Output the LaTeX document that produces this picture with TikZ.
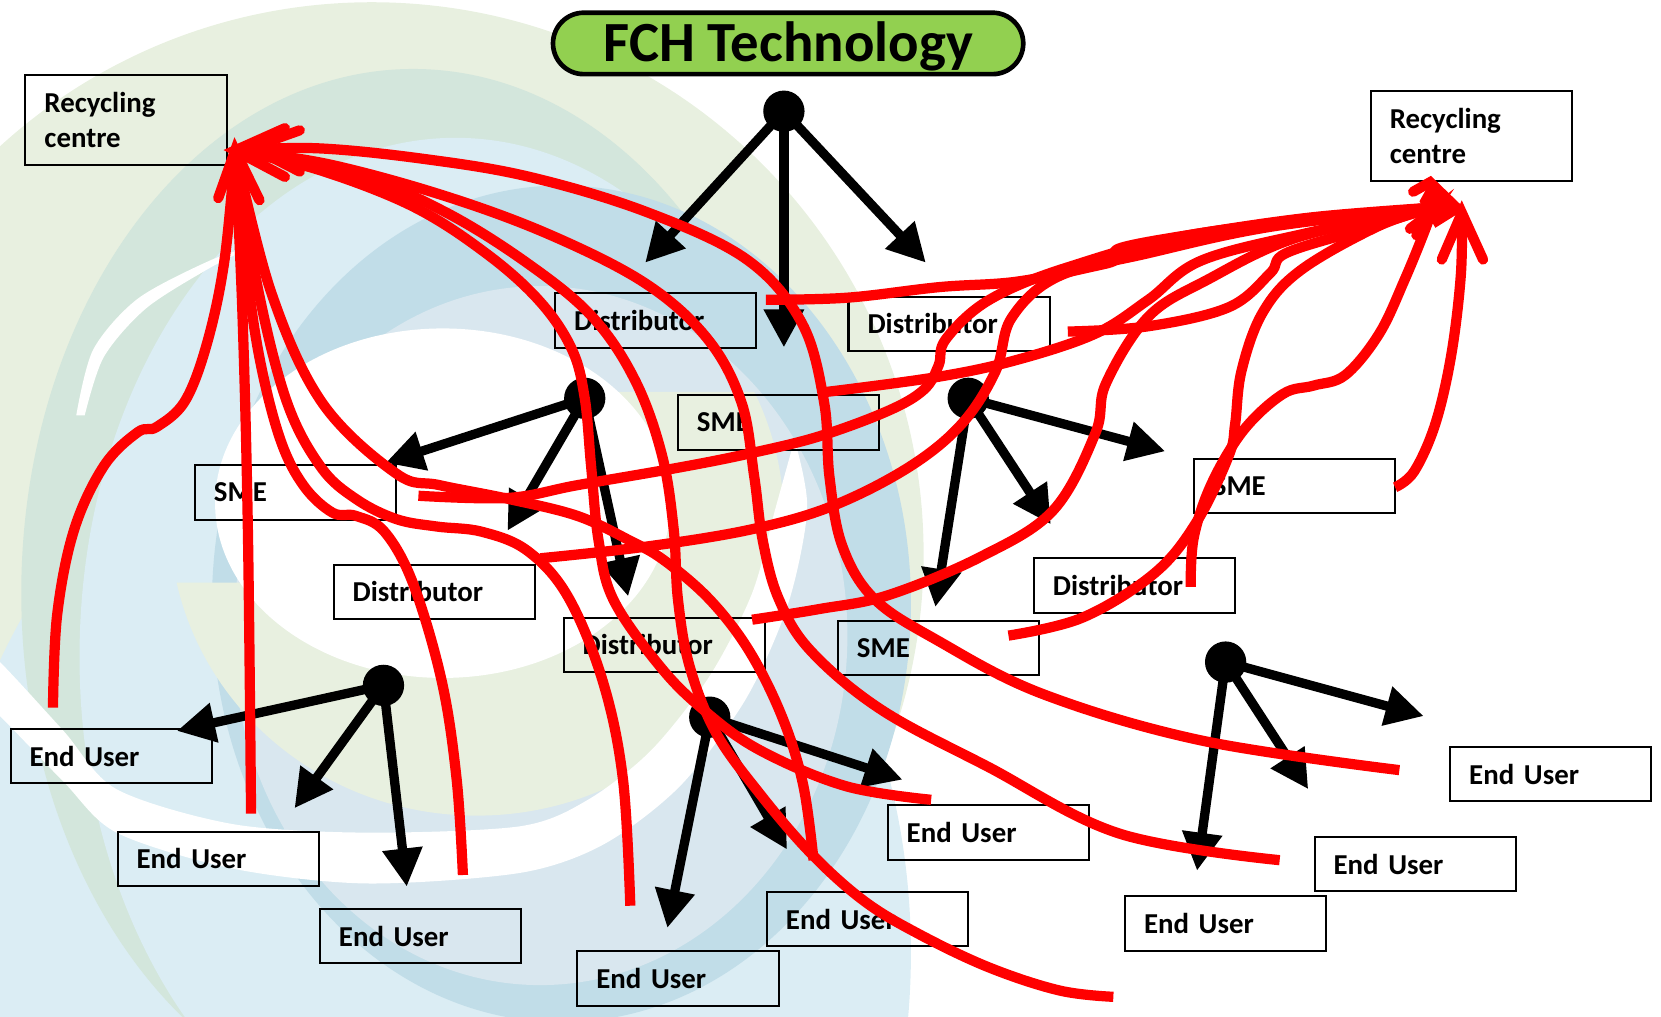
\documentclass[tikz,border=0pt]{standalone}
\usepackage{fontspec}
\setmainfont{Carlito}
\usetikzlibrary{arrows.meta}

\definecolor{bgPale}{RGB}{232,240,224}
\definecolor{bgSage}{RGB}{211,230,220}
\definecolor{bgSky}{RGB}{219,237,244}
\definecolor{bgBlue}{RGB}{193,221,232}
\definecolor{bgMist}{RGB}{217,231,239}
\definecolor{pill}{RGB}{146,208,80}
\definecolor{flow}{RGB}{255,0,0}

\begin{document}
\begin{tikzpicture}[x=0.02cm,y=-0.02cm,
  box/.style={draw=black, line width=1.1pt, anchor=north west,
    minimum width=3.8cm, minimum height=1.03cm, text width=3.08cm,
    inner xsep=0.36cm, inner ysep=0pt, align=left,
    font=\bfseries\fontsize{15.5pt}{18.7pt}\selectfont},
  tallbox/.style={box, minimum height=1.7cm},
  hub/.style={circle, fill=black, minimum size=0.78cm, inner sep=0pt},
  blk/.style={line width=5pt, -{Triangle[length=0.72cm,width=0.72cm]}},
  rd/.style={draw=flow, line width=5.5pt, line join=round},
  rhead/.style={draw=flow, line width=5.5pt, line cap=round, line join=miter},
  titlebox/.style={draw=black, line width=2.5pt, fill=pill, rounded corners=0.58cm,
    minimum width=8.88cm, minimum height=1.16cm, inner sep=0pt,
    text height=19.6pt, text depth=0pt,
    font=\bfseries\fontsize{30.5pt}{30.5pt}\selectfont}]

\useasboundingbox (0,0) rectangle (1568,960);

% ---- pastel swirl background ----
\begin{scope}
\clip (0,0) rectangle (1568,960);
\fill[bgPale] (351,523) ellipse [x radius=10.42cm, y radius=10.42cm];
\fill[bgSky] (400,900) ellipse [x radius=9.2cm, y radius=11.2cm];
\fill[bgSage] (390,560) ellipse [x radius=7.4cm, y radius=9.9cm];
\fill[bgSky] (430,620) ellipse [x radius=7.1cm, y radius=9.8cm];
\fill[bgBlue] (530,570) ellipse [x radius=6.6cm, y radius=7.9cm];
\fill[bgMist] (510,600) ellipse [x radius=5.8cm, y radius=6.6cm];
% thin white sliver, upper left
\fill[white] plot[smooth] coordinates {(72,392) (88,330) (130,282) (198,246) (240,232)}
  -- plot[smooth] coordinates {(240,232) (198,253) (138,291) (98,337) (80,392)} -- cycle;
% green band round the inner white
\begin{scope}
  \clip (0,550) rectangle (1568,960) (560,370) rectangle (1568,550);
  \fill[bgPale] (450,490) ellipse [x radius=5.8cm, y radius=5.6cm];
\end{scope}
\fill[white] (418,475) ellipse [x radius=4.3cm, y radius=3.3cm];
% white crescent, lower left
\fill[white] plot[smooth] coordinates {(-40,590) (0,625) (60,690) (110,745) (220,778) (346,786) (491,780) (555,755) (615,708) (670,638) (710,560) (732,480) (750,415)}
  -- plot[smooth] coordinates {(750,415) (762,480) (744,570) (704,660) (642,742) (570,797) (491,824) (346,834) (220,820) (110,786) (60,738) (0,676) (-40,640)} -- cycle;
\end{scope}

% ---- title ----
\node[titlebox] (title) at (744,41) {FCH Technology};

% ---- boxes ----
\node[tallbox] (rcl) at (23,70) {Recycling\\centre};
\node[tallbox] (rcr) at (1293,85) {Recycling\\centre};
\node[box] (dA) at (523,276) {Distributor};
\node[box] (dB) at (800,279) {Distributor};
\node[box] (s1) at (639,372) {SME};
\node[box] (s2) at (183,438) {SME};
\node[box] (s3) at (1126,432) {SME};
\node[box] (dC) at (314,532) {Distributor};
\node[box] (dD) at (975,526) {Distributor};
\node[box] (dE) at (531,582) {Distributor};
\node[box] (s4) at (790,585) {SME};
\node[box] (u1) at (9,687) {End User};
\node[box] (u2) at (1368,704) {End User};
\node[box] (u3) at (110,784) {End User};
\node[box] (u4) at (837,759) {End User};
\node[box] (u5) at (1240,789) {End User};
\node[box] (u6) at (301,857) {End User};
\node[box] (u7) at (723,841) {End User};
\node[box] (u8) at (1061,845) {End User};
\node[box] (u9) at (544,897) {End User};

% ---- supply hubs ----
\node[hub] (h1) at (740,105) {};
\node[hub] (h2) at (552,376) {};
\node[hub] (h3) at (914,376) {};
\node[hub] (h4) at (362,647) {};
\node[hub] (h5) at (670,677) {};
\node[hub] (h6) at (1157,625) {};

\coordinate (h1a) at (609,248); \coordinate (h1b) at (740,328); \coordinate (h1c) at (874,248);
\coordinate (h2a) at (364,437); \coordinate (h2b) at (479,501); \coordinate (h2c) at (593,563);
\coordinate (h3a) at (1100,426); \coordinate (h3b) at (992,495); \coordinate (h3c) at (883,573);
\coordinate (h4a) at (167,690); \coordinate (h4b) at (278,763); \coordinate (h4c) at (384,837);
\coordinate (h5a) at (852,736); \coordinate (h5b) at (743,802); \coordinate (h5c) at (630,876);
\coordinate (h6a) at (1344,676); \coordinate (h6b) at (1235,745); \coordinate (h6c) at (1130,822);

\foreach \h in {h1,h2,h3,h4,h5,h6}
  \foreach \t in {a,b,c}
    \draw[blk] (\h.center) -- (\h\t);

% ---- return flows to the recycling centres ----
\coordinate (tl) at (222,142);
\coordinate (tr) at (1352,196);
\coordinate (tr2) at (1380,201);

% left centre
\coordinate (l1) at (50,668);
\coordinate (l2) at (237,768);
\coordinate (l3) at (437,826);
\coordinate (l4) at (595,855);
\coordinate (l5) at (768,812);
\coordinate (l6) at (879,755);
\coordinate (l7) at (1051,941);
\coordinate (l8) at (1208,812);
\coordinate (l9) at (1321,727);

\draw[rd] plot[smooth, tension=0.6] coordinates {(l1) (54,580) (70,500) (98,440) (130,408) (148,403) (175,378) (196,322) (212,245) (tl)};
\draw[rd] plot[smooth, tension=0.6] coordinates {(l2) (234,500) (229,300) (tl)};
\draw[rd] plot[smooth, tension=0.6] coordinates {(l3) (431,735) (417,643) (390,551) (363,502) (336,487) (314,484) (287,459) (265,416) (246,343) (233,257) (tl)};
\draw[rd] plot[smooth, tension=0.6] coordinates {(l4) (588,735) (569,643) (536,563) (498,520) (455,502) (412,497) (374,490) (336,471) (303,441) (271,380) (244,275) (tl)};
\draw[rd] plot[smooth, tension=0.6] coordinates {(l5) (758,740) (738,676) (707,614) (670,566) (627,529) (594,510) (545,487) (480,471) (415,458) (374,447) (304,380) (256,276) (tl)};
\draw[rd] plot[smooth, tension=0.6] coordinates {(l6) (798,742) (717,708) (664,670) (623,629) (579,566) (565,510) (558,440) (552,376) (540,330) (510,285) (460,240) (390,195) (300,160) (tl)};
\draw[rd] plot[smooth, tension=0.6] coordinates {(l7) (1000,935) (933,913) (866,881) (815,850) (765,805) (717,749) (676,692) (651,629) (640,566) (636,500) (625,430) (600,360) (560,300) (500,250) (420,200) (330,162) (tl)};
\draw[rd] plot[smooth, tension=0.6] coordinates {(l8) (1057,787) (933,724) (832,670) (765,614) (735,565) (720,510) (712,450) (700,380) (668,320) (610,268) (520,222) (420,185) (310,155) (tl)};
\draw[rd] plot[smooth, tension=0.6] coordinates {(l9) (1134,699) (984,655) (884,604) (825,565) (795,515) (783,450) (778,380) (757,305) (705,245) (610,200) (500,167) (400,150) (300,140) (tl)};

% right centre
\coordinate (r1) at (723,283);
\coordinate (r2) at (780,370);
\coordinate (r3) at (395,468);
\coordinate (r4) at (510,527);
\coordinate (r5) at (710,585);
\coordinate (r6) at (952,600);
\coordinate (r7) at (1124,554);
\coordinate (r8) at (1317,460);
\coordinate (r9) at (1008,313);

\draw[rd] plot[smooth, tension=0.6] coordinates {(r1) (800,281) (887,271) (959,266) (1030,252) (1054,245) (1058,234) (1134,220) (1240,205) (tr)};
\draw[rd] plot[smooth, tension=0.6] coordinates {(r2) (884,356) (959,340) (1034,315) (1084,283) (1134,246) (1234,220) (tr)};
\draw[rd] plot[smooth, tension=0.6] coordinates {(r3) (480,470) (545,458) (643,441) (708,428) (773,412) (838,388) (872,368) (886,345) (893,320) (934,283) (1009,252) (1134,220) (tr)};
\draw[rd] plot[smooth, tension=0.6] coordinates {(r4) (610,516) (708,500) (785,478) (858,441) (908,400) (940,350) (955,300) (999,261) (1084,239) (1200,214) (tr)};
\draw[rd] plot[smooth, tension=0.6] coordinates {(r5) (773,575) (838,562) (925,526) (994,482) (1034,409) (1044,362) (1084,299) (1140,264) (1225,224) (tr)};
\draw[rd] plot[smooth, tension=0.6] coordinates {(r6) (1022,583) (1090,541) (1130,492) (1160,430) (1166,400) (1172,350) (1192,295) (1228,255) (1300,214) (tr)};
\draw[rd] plot[smooth, tension=0.6] coordinates {(r7) (1127,507) (1144,456) (1174,406) (1211,372) (1240,364) (1270,354) (1302,315) (1326,264) (1346,215) (tr)};
\draw[rd] plot[smooth, tension=0.6] coordinates {(r8) (1335,445) (1355,400) (1370,335) (1379,260) (tr2)};
\draw[rd] plot[smooth, tension=0.6] coordinates {(r9) (1084,308) (1160,290) (1199,258) (1214,239) (1284,217) (tr)};

% arrow heads, drawn by hand
\draw[rhead] (269,121) -- (tl) -- (269,167);
\draw[rhead] (283,123) -- (238,139) -- (283,162);
\draw[rhead] (206,187) -- (tl) -- (245,189);
\fill[flow] (1350,172) -- (1379,200) -- (1355,215) -- (1340,190) -- cycle;
\draw[rhead] (1334,181) -- (1350,172) -- (1379,200);
\draw[rhead] (1331,216) -- (1352,200) -- (1337,222);
\draw[rhead] (1361,245) -- (tr2) -- (1400,245);

\end{tikzpicture}
\end{document}
